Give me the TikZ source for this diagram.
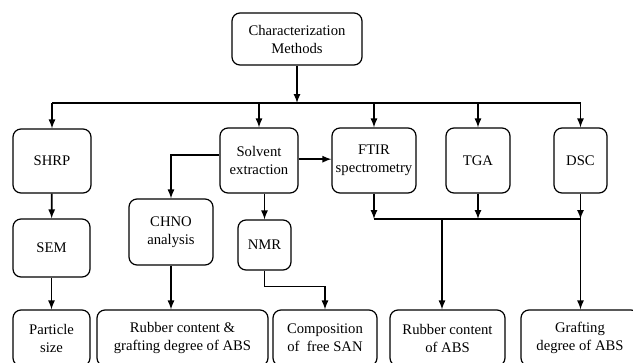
\documentclass[tikz,border=0pt]{standalone}
\usepackage{fontspec}
\setmainfont{Liberation Serif}
\usepackage{tikz}
\usetikzlibrary{arrows,positioning,calc}

\begin{document}
\begin{tikzpicture}[
            x=0.75pt, y=-0.75pt, >=latex,
            box/.style={draw, rectangle, rounded corners=6pt, line width=0.9pt, align=center, inner sep=1pt, font=\fontsize{11}{13.5}\selectfont},
            link/.style={->, line width=1.3pt},
            wire/.style={line width=1.3pt}
        ]
            \clip (0,0) rectangle (633,362);
            % methods and first row
            \node[box, minimum width=97.5pt, minimum height=39pt] (methods) at (297,39) {Characterization\\Methods};
            \node[box, minimum width=58.5pt, minimum height=48pt] (shrp) at (52,161) {SHRP};
            \node[box, minimum width=58.5pt, minimum height=48.75pt] (solvent) at (259,160.5) {Solvent\\extraction};
            \node[box, minimum width=63pt, minimum height=48.75pt] (ftir) at (374,160.5) {FTIR\\spectrometry};
            \node[box, minimum width=48pt, minimum height=48.75pt] (tga) at (478,160.5) {TGA};
            \node[box, minimum width=39.75pt, minimum height=48.75pt] (dsc) at (580.5,160.5) {DSC};

            % second row
            \node[box, minimum width=57.75pt, minimum height=43.5pt] (sem) at (51.5,248) {SEM};
            \node[box, minimum width=63pt, minimum height=49.5pt] (chno) at (171,232) {CHNO\\analysis};
            \node[box, minimum width=39.75pt, minimum height=37.5pt] (nmr) at (264.5,245) {NMR};

            % results
            \node[box, minimum width=57.75pt, minimum height=42pt] (particle) at (51.5,338) {Particle\\size};
            \node[box, minimum width=128.25pt, minimum height=42pt] (rubgraft) at (182.5,338) {Rubber content \&\\grafting degree of ABS};
            \node[box, minimum width=78pt, minimum height=42pt] (comp) at (325,338) {Composition\\of~ free SAN};
            \node[box, minimum width=86.25pt, minimum height=42pt] (rubabs) at (447.5,338) {Rubber content\\of ABS};
            \node[box, minimum width=88.5pt, minimum height=42pt] (graft) at (580,338) {Grafting\\degree of ABS};

            \coordinate (bus) at (297,103);
            \coordinate (bus2) at (442,219);

            % top bus
            \draw[link] (methods) -- (bus);
            \draw[wire] (shrp.north |- bus) -- (dsc.north |- bus);
            \foreach \n in {shrp,solvent,ftir,tga,dsc}
                \draw[link] (\n.north |- bus) -- (\n.north);

            % left branches
            \draw[link] (shrp) -- (sem);
            \draw[link] (sem) -- (particle);
            \draw[link] ([yshift=4pt]solvent.west) -| (chno.north);
            \draw[link] ([yshift=1pt]solvent.east) -- ([yshift=1pt]ftir.west);
            \draw[link] (nmr.north |- solvent.south) -- (nmr.north);
            \draw[link] (chno) -- (chno |- rubgraft.north);
            \draw[link] (nmr.south) -- ++(0,16) -| (comp.north);

            % lower bus
            \draw[wire] (ftir.south |- bus2) -- (dsc.south |- bus2);
            \foreach \n in {ftir,tga,dsc}
                \draw[link] (\n.south) -- (\n.south |- bus2);
            \draw[link] (bus2) -- (bus2 |- rubabs.north);
            \draw[link] (dsc.south |- bus2) -- (dsc.south |- graft.north);
        \end{tikzpicture}
\end{document}
